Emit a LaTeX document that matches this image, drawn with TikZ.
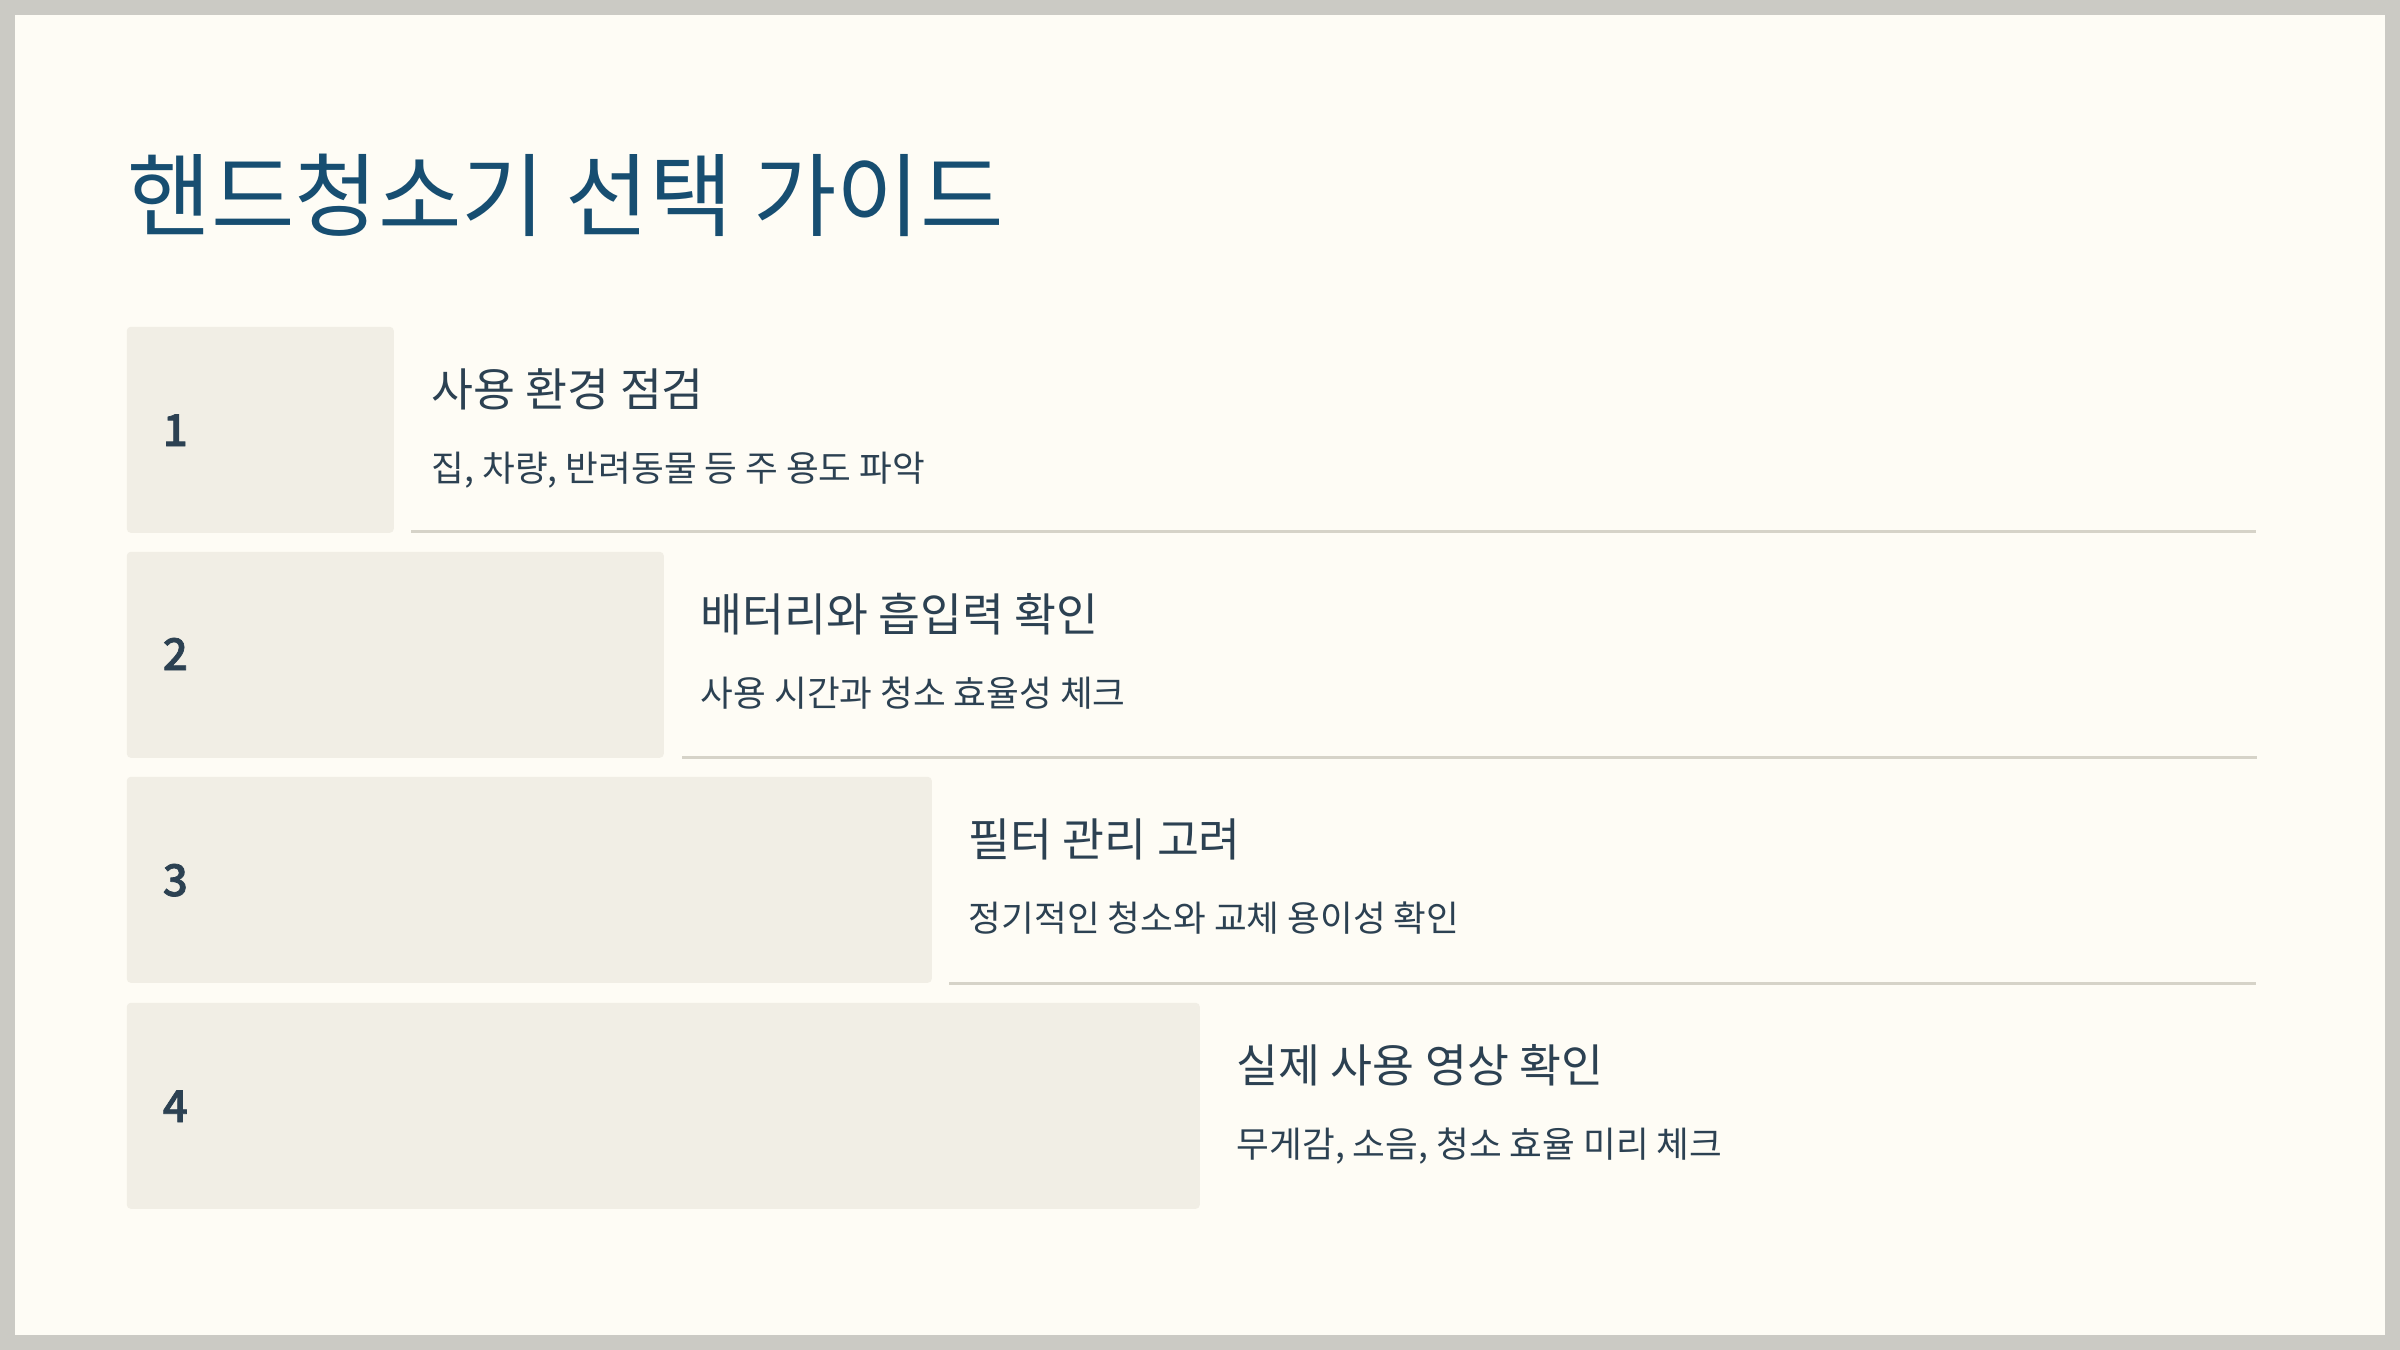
\documentclass[tikz,border=0pt]{standalone}
\usepackage{fontspec}
\setmainfont{Noto Sans CJK KR}
\newfontfamily\numfont{Noto Sans CJK KR Medium}[FakeBold=1.6]
\definecolor{framegray}{HTML}{CBCAC4}
\definecolor{pagebg}{HTML}{FEFCF5}
\definecolor{boxfill}{HTML}{F1EEE5}
\definecolor{titleblue}{HTML}{174E71}
\definecolor{textdark}{HTML}{2C4152}
\definecolor{sepline}{HTML}{D6D3C8}
\tikzset{
  titletext/.style={inner sep=0pt, anchor=base west, text=titleblue, font=\fontsize{22.7pt}{27pt}\selectfont},
  stepbox/.style={fill=boxfill, draw=none, rounded corners=1pt, inner sep=0pt, anchor=north west, minimum height=51.5pt},
  numtext/.style={inner sep=0pt, anchor=base west, text=textdark, font=\fontsize{11pt}{13pt}\numfont},
  headtext/.style={inner sep=0pt, anchor=base west, text=textdark, font=\fontsize{11.4pt}{14pt}\selectfont},
  subtext/.style={inner sep=0pt, anchor=base west, text=textdark, font=\fontsize{8.9pt}{11pt}\selectfont},
  sep/.style={draw=sepline, line width=0.75pt}
}
\begin{document}
\begin{tikzpicture}[x=0.25pt,y=-0.25pt]
\fill[framegray] (0,0) rectangle (2400,1350);
\fill[pagebg] (15,15) rectangle (2385,1335);
\useasboundingbox (0,0) rectangle (2400,1350);

\node[titletext] (title) at (127,229) {핸드청소기 선택 가이드};

% row 1
\node[stepbox, minimum width=66.75pt] (b1) at (126,326) {};
\node[numtext] (n1) at (162,446) {1};
\node[headtext] (h1) at (431,406) {사용 환경 점검};
\node[subtext] (s1) at (431,481) {집, 차량, 반려동물 등 주 용도 파악};
\coordinate (l1a) at (411,531.5);
\coordinate (l1b) at (2256,531.5);
\draw[sep] (l1a) -- (l1b);

% row 2
\node[stepbox, minimum width=134.25pt] (b2) at (126,551) {};
\node[numtext] (n2) at (162,670) {2};
\node[headtext] (h2) at (700,631) {배터리와 흡입력 확인};
\node[subtext] (s2) at (700,706) {사용 시간과 청소 효율성 체크};
\coordinate (l2a) at (682,757.5);
\coordinate (l2b) at (2257,757.5);
\draw[sep] (l2a) -- (l2b);

% row 3
\node[stepbox, minimum width=201.25pt] (b3) at (126,776) {};
\node[numtext] (n3) at (162,896) {3};
\node[headtext] (h3) at (968,856) {필터 관리 고려};
\node[subtext] (s3) at (968,931) {정기적인 청소와 교체 용이성 확인};
\coordinate (l3a) at (949,983.5);
\coordinate (l3b) at (2256,983.5);
\draw[sep] (l3a) -- (l3b);

% row 4
\node[stepbox, minimum width=268.25pt] (b4) at (126,1002) {};
\node[numtext] (n4) at (162,1122) {4};
\node[headtext] (h4) at (1236,1082) {실제 사용 영상 확인};
\node[subtext] (s4) at (1236,1157) {무게감, 소음, 청소 효율 미리 체크};
\end{tikzpicture}
\end{document}
